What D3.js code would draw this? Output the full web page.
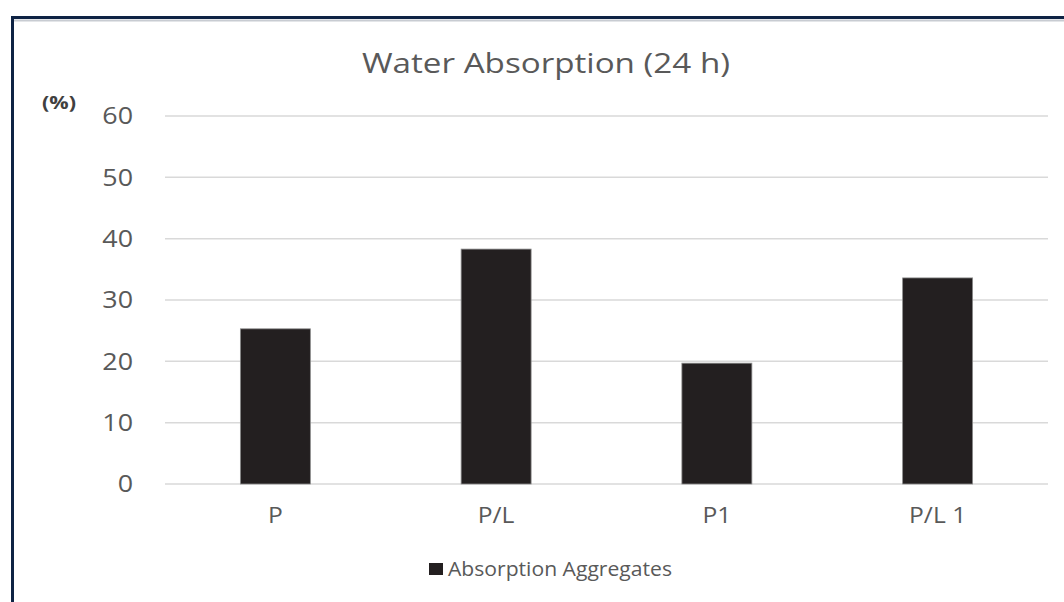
<!DOCTYPE html>
<html>
<head>
<meta charset="utf-8">
<script src="https://cdn.jsdelivr.net/npm/d3@7"></script>
<style>
  html, body { margin: 0; padding: 0; background: #fff; }
  svg { display: block; }
</style>
</head>
<body>
<svg id="chart" width="1064" height="602"></svg>
<script>
// Water absorption after 24 h, per mix
const categories = ["P", "P/L", "P1", "P/L 1"];
const absorption = [25.3, 38.3, 19.7, 33.6];
const yTicks = [0, 10, 20, 30, 40, 50, 60];
const seriesName = "Absorption Aggregates";

const svg = d3.select("#chart");
const W = 1064, H = 602;
const font = "'Open Sans', 'Noto Sans', sans-serif";
const textGrey = "#595959";
const barColor = "#231f20";

// Outer frame
svg.append("rect")
  .attr("x", 12.5).attr("y", 17.5)
  .attr("width", W + 20).attr("height", H + 20)
  .attr("fill", "#fff")
  .attr("stroke", "#0e2344").attr("stroke-width", 3);
svg.append("line")
  .attr("x1", 14).attr("x2", W).attr("y1", 20.5).attr("y2", 20.5)
  .attr("stroke", "#c8ccd2").attr("stroke-width", 2);

const plot = { left: 165, right: 1048, top: 116, bottom: 484 };

const x = d3.scaleBand()
  .domain(categories)
  .range([plot.left, plot.right])
  .paddingInner(0.683)
  .paddingOuter(0.3415);

const y = d3.scaleLinear()
  .domain([0, 60])
  .range([plot.bottom, plot.top]);

// Gridlines
svg.append("g")
  .selectAll("line")
  .data(yTicks)
  .join("line")
  .attr("x1", plot.left).attr("x2", plot.right)
  .attr("y1", d => y(d)).attr("y2", d => y(d))
  .attr("stroke", "#d9d9d9").attr("stroke-width", 1.5);

// Y axis labels (slightly wide lettering)
const yAxis = svg.append("g")
  .attr("transform", `translate(${plot.left - 32},0)`)
  .call(d3.axisLeft(y).tickValues(yTicks).tickSize(0).tickPadding(0));
yAxis.select(".domain").remove();
yAxis.selectAll("text")
  .attr("fill", textGrey)
  .attr("font-family", font)
  .attr("font-size", 24)
  .attr("transform", "scale(1.12,1)");

// Bars
svg.append("g")
  .selectAll("rect")
  .data(categories)
  .join("rect")
  .attr("x", d => x(d))
  .attr("y", (d, i) => y(absorption[i]))
  .attr("width", x.bandwidth())
  .attr("height", (d, i) => y(0) - y(absorption[i]))
  .attr("fill", barColor)
  .attr("stroke", "#8c8c8c")
  .attr("stroke-width", 0.8);

// X axis labels
const xAxis = svg.append("g")
  .attr("transform", `translate(0,${plot.bottom + 23})`)
  .call(d3.axisBottom(x).tickSize(0).tickPadding(0));
xAxis.select(".domain").remove();
xAxis.selectAll("text")
  .attr("fill", textGrey)
  .attr("font-family", font)
  .attr("font-size", 22)
  .attr("dy", "0.72em")
  .attr("transform", "scale(1.12,1)");

// Title
svg.append("text")
  .attr("x", 546).attr("y", 73)
  .attr("text-anchor", "middle")
  .attr("fill", textGrey)
  .attr("font-family", font)
  .attr("font-size", 28)
  .attr("textLength", 368)
  .attr("lengthAdjust", "spacingAndGlyphs")
  .text("Water Absorption (24 h)");

// Unit label
svg.append("text")
  .attr("x", 42).attr("y", 109)
  .attr("fill", "#404040")
  .attr("font-family", font)
  .attr("font-weight", "bold")
  .attr("font-size", 17)
  .attr("textLength", 34)
  .attr("lengthAdjust", "spacingAndGlyphs")
  .text("(%)");

// Legend
const legend = svg.append("g").attr("transform", "translate(429,569)");
legend.append("rect")
  .attr("x", 0).attr("y", -6).attr("width", 14).attr("height", 12)
  .attr("fill", barColor);
legend.append("text")
  .attr("x", 19).attr("y", 7)
  .attr("fill", textGrey)
  .attr("font-family", font)
  .attr("font-size", 20)
  .attr("textLength", 224)
  .attr("lengthAdjust", "spacingAndGlyphs")
  .text(seriesName);
</script>
</body>
</html>
